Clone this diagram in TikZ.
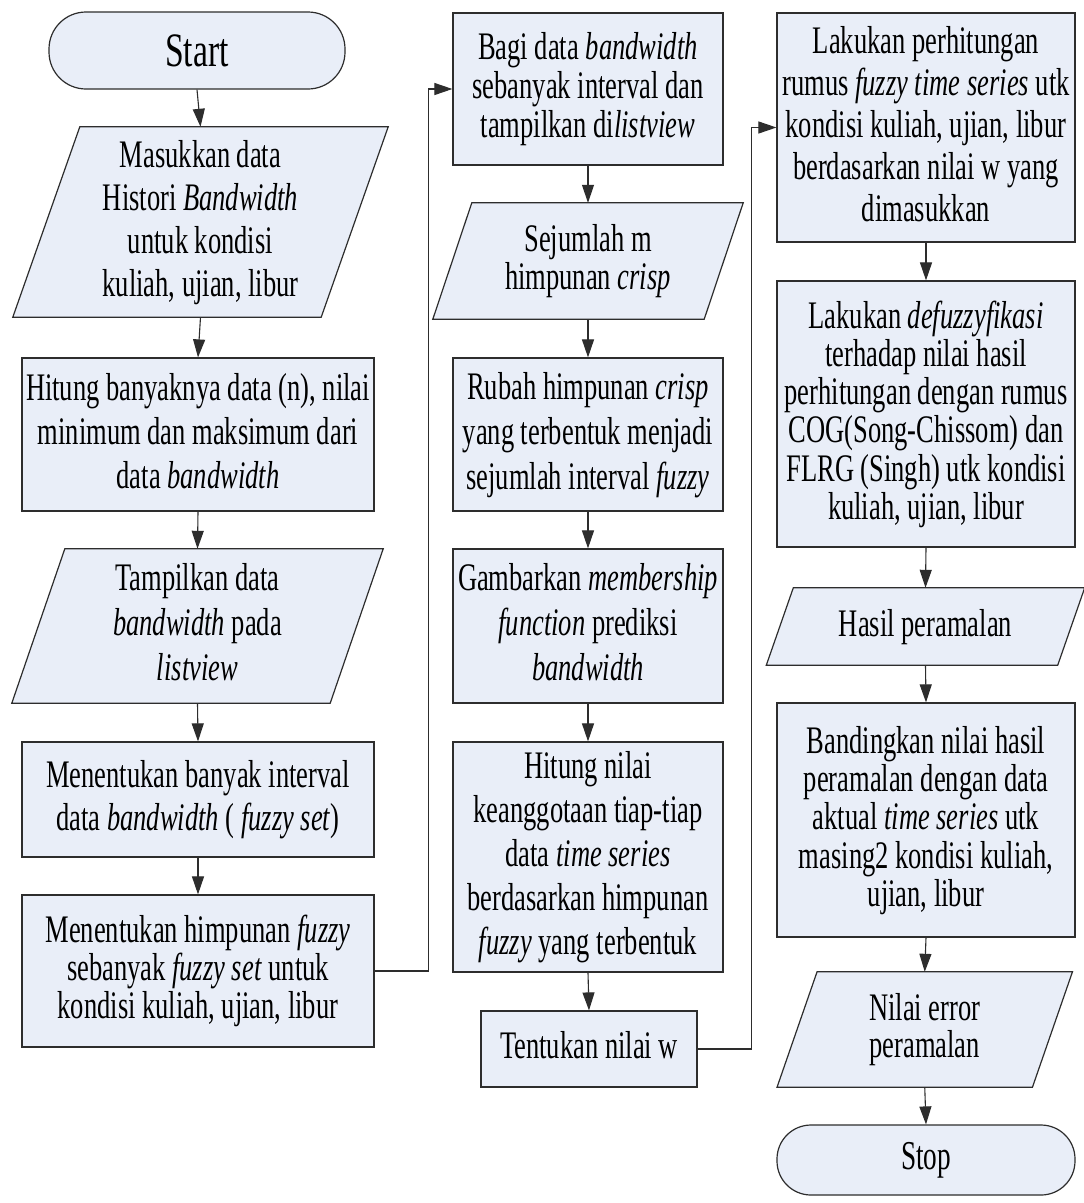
\documentclass[tikz,border=0pt]{standalone}
\usepackage{fontspec}
\setmainfont{Liberation Serif}
\usepackage{graphicx}
\usetikzlibrary{arrows.meta}
\pgfdeclarelayer{bg}
\pgfsetlayers{bg,main}
\definecolor{boxfill}{RGB}{233,238,248}
\definecolor{edge}{RGB}{45,45,45}
\newcommand{\tx}[2][40]{\scalebox{0.68}[1]{\fontsize{39}{#1}\selectfont\vbox{\baselineskip=#1pt\lineskiplimit=-1000pt\let\\\cr\halign{\hfil##\hfil\vrule height 0.72em depth 0.22em width 0pt\cr#2\crcr}}}}
\newcommand{\drawpara}[2]{\begin{pgfonlayer}{bg}\draw[paradraw] ([xshift=#2pt]#1.north west) -- ([xshift=#2pt]#1.north east) -- ([xshift=-#2pt]#1.south east) -- ([xshift=-#2pt]#1.south west) -- cycle;\end{pgfonlayer}}
\tikzset{
  proc/.style={draw=edge, fill=boxfill, line width=1.2pt, inner sep=0pt, rectangle},
  term/.style={draw=edge, fill=boxfill, line width=1.2pt, inner sep=0pt, rectangle, rounded corners=37pt},
  iobox/.style={inner sep=0pt, rectangle},
  paradraw/.style={draw=edge, fill=boxfill, line width=1.2pt},
  arr/.style={draw=edge, line width=1.1pt, -{Triangle[length=18pt,width=12pt]}},
}
\begin{document}
\begin{tikzpicture}[x=1pt,y=-1pt]
\useasboundingbox (0,0) rectangle (1084,1203);
\begin{pgfonlayer}{bg}
\fill[white] (0,0) rectangle (1084,1203);
\end{pgfonlayer}
% column 1
\node[term, minimum width=296pt, minimum height=77pt] (start) at (197,50.5)
  {\scalebox{0.7}[1]{\fontsize{48}{52}\selectfont Start}};
\node[iobox, minimum width=308pt, minimum height=190pt] (in1) at (200.5,222)
  {\tx[43]{Masukkan data\\ Histori \textit{Bandwidth}\\ untuk kondisi\\ kuliah, ujian, libur}};
\drawpara{in1}{33.5}
\node[proc, minimum width=352pt, minimum height=153pt] (p1) at (198,434.5)
  {\tx[44]{Hitung banyaknya data (n), nilai\\ minimum dan maksimum dari\\ data \textit{bandwidth}}};
\node[iobox, minimum width=318pt, minimum height=154pt] (in2) at (197.5,626)
  {\tx[45]{Tampilkan data\\ \textit{bandwidth} pada\\ \textit{listview}}};
\drawpara{in2}{26.5}
\node[proc, minimum width=352pt, minimum height=115pt] (p2) at (198,799.5)
  {\tx[43]{Menentukan banyak interval\\ data \textit{bandwidth} ( \textit{fuzzy set})}};
\node[proc, minimum width=352pt, minimum height=152pt] (p3) at (198,971)
  {\tx[38]{Menentukan himpunan \textit{fuzzy}\\ sebanyak \textit{fuzzy set} untuk\\ kondisi kuliah, ujian, libur}};
% column 2
\node[proc, minimum width=270pt, minimum height=152pt] (p4) at (588,89)
  {\tx[39]{Bagi data \textit{bandwidth}\\ sebanyak interval dan\\ tampilkan di\textit{listview}}};
\node[iobox, minimum width=271pt, minimum height=116pt] (in3) at (588,261)
  {\tx[38]{Sejumlah m\\ himpunan \textit{crisp}}};
\drawpara{in3}{19.5}
\node[proc, minimum width=270pt, minimum height=153pt] (p5) at (588,434.5)
  {\tx[45]{Rubah himpunan \textit{crisp}\\ yang terbentuk menjadi\\ sejumlah interval \textit{fuzzy}}};
\node[proc, minimum width=270pt, minimum height=154pt] (p6) at (588,626)
  {\tx[45]{Gambarkan \textit{membership}\\ \textit{function} prediksi\\ \textit{bandwidth}}};
\node[proc, minimum width=270pt, minimum height=230pt] (p7) at (588,857)
  {\tx[44]{Hitung nilai\\ keanggotaan tiap-tiap\\ data \textit{time series}\\ berdasarkan himpunan\\ \textit{fuzzy} yang terbentuk}};
\node[proc, minimum width=216pt, minimum height=76pt] (p8) at (589,1049)
  {\tx{Tentukan nilai w}};
% column 3
\node[proc, minimum width=298pt, minimum height=229pt] (p9) at (926,127.5)
  {\tx[42]{Lakukan perhitungan\\ rumus \textit{fuzzy time series} utk\\ kondisi kuliah, ujian, libur\\ berdasarkan nilai w yang\\ dimasukkan}};
\node[proc, minimum width=298pt, minimum height=266pt] (p10) at (926,414)
  {\tx[38.3]{Lakukan \textit{defuzzyfikasi}\\ terhadap nilai hasil\\ perhitungan dengan rumus\\ COG(Song-Chissom) dan\\ FLRG (Singh) utk kondisi\\ kuliah, ujian, libur}};
\node[iobox, minimum width=291pt, minimum height=77pt] (out1) at (925.5,626.5)
  {\tx{Hasil peramalan}};
\drawpara{out1}{13.5}
\node[proc, minimum width=298pt, minimum height=234pt] (p11) at (926,820)
  {\tx[38.3]{Bandingkan nilai hasil\\ peramalan dengan data\\ aktual \textit{time series} utk\\ masing2 kondisi kuliah,\\ ujian, libur}};
\node[iobox, minimum width=255pt, minimum height=115pt] (out2) at (924.75,1029.5)
  {\tx[37]{Nilai error\\ peramalan}};
\drawpara{out2}{20}
\node[term, minimum width=298pt, minimum height=70pt, rounded corners=34pt] (stop) at (926,1160)
  {\scalebox{0.665}[1]{\fontsize{41}{44}\selectfont Stop}};
% connectors
\draw[arr] (start.south) -- (in1.north);
\draw[arr] (in1.south) -- (p1.north);
\draw[arr] (p1.south) -- (in2.north);
\draw[arr] (in2.south) -- (p2.north);
\draw[arr] (p2.south) -- (p3.north);
\draw[arr] (p3.east) -- ++(54,0) |- (p4.west);
\draw[arr] (p4.south) -- (in3.north);
\draw[arr] (in3.south) -- (p5.north);
\draw[arr] (p5.south) -- (p6.north);
\draw[arr] (p6.south) -- (p7.north);
\draw[arr] (p7.south) -- (p8.north);
\draw[arr] (p8.east) -- ++(54,0) |- (p9.west);
\draw[arr] (p9.south) -- (p10.north);
\draw[arr] (p10.south) -- (out1.north);
\draw[arr] (out1.south) -- (p11.north);
\draw[arr] (p11.south) -- (out2.north);
\draw[arr] (out2.south) -- (stop.north);
\end{tikzpicture}
\end{document}
